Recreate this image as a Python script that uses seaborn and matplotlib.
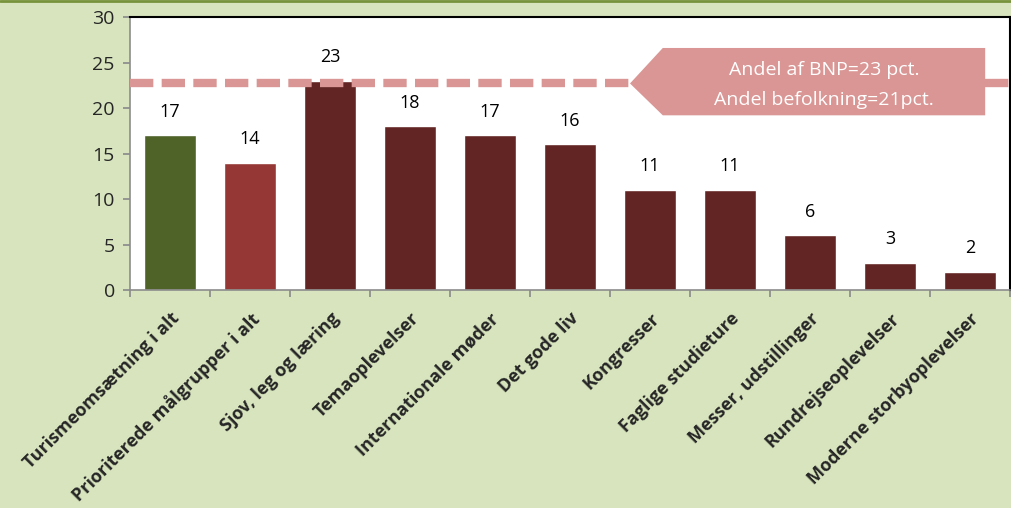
import matplotlib
matplotlib.use("Agg")
import matplotlib.pyplot as plt
import seaborn as sns
import pandas as pd
from matplotlib.patches import Polygon
from matplotlib.lines import Line2D

sns.set_theme(style="white")
plt.rcParams['font.family'] = ['Open Sans', 'DejaVu Sans']

# === Data ===
categories = ['Turismeomsætning i alt', 'Prioriterede målgrupper i alt', 'Sjov, leg og læring',
              'Temaoplevelser', 'Internationale møder', 'Det gode liv', 'Kongresser',
              'Faglige studieture', 'Messer, udstillinger', 'Rundrejseoplevelser',
              'Moderne storbyoplevelser']
values = [17, 14, 23, 18, 17, 16, 11, 11, 6, 3, 2]
bar_colors = ['#4F6228', '#953735'] + ['#632523'] * 9
reference_level = 22.7
callout_lines = ['Andel af BNP=23 pct.', 'Andel befolkning=21pct.']

df = pd.DataFrame({'kategori': categories, 'andel': values})

fig = plt.figure(figsize=(10.12, 5.08), dpi=100)
fig.patch.set_facecolor('#D7E4BD')
ax = fig.add_axes([0.1285, 0.429, 0.8695, 0.5375])
ax.set_facecolor('white')

sns.barplot(data=df, x='kategori', y='andel', hue='kategori', palette=bar_colors,
            width=0.65, saturation=1, legend=False, ax=ax, zorder=2)

for i, v in enumerate(values):
    ax.text(i, v + 2.6, str(v), ha='center', va='center', fontsize=13, color='black')

ax.set_ylim(0, 30)
ax.set_xlim(-0.5, len(categories) - 0.5)
ax.set_yticks(range(0, 31, 5))
ax.set_xticks([i - 0.5 for i in range(len(categories) + 1)], minor=False)
ax.set_xticklabels([])
ax.set_xticks(range(len(categories)), minor=True)
ax.set_xticklabels(categories, minor=True, rotation=45, ha='right', va='top',
                   rotation_mode='anchor', fontsize=13, fontweight='bold')
ax.tick_params(axis='x', which='minor', length=0, pad=14)
ax.tick_params(axis='x', which='major', length=5, color='#8C8C8C', direction='out')
ax.tick_params(axis='y', length=5, color='#8C8C8C', direction='out', labelsize=14, pad=6)
ax.tick_params(left=True, bottom=True)
ax.set_xlabel('')
ax.set_ylabel('')

for s in ['left', 'bottom']:
    ax.spines[s].set_color('#8C8C8C')
    ax.spines[s].set_linewidth(1.2)
for s in ['top', 'right']:
    ax.spines[s].set_color('black')
    ax.spines[s].set_linewidth(1.5)

# reference dashed line
ax.axhline(reference_level, color='#D99694', linewidth=6, linestyle=(0, (2.8, 1.0)),
           dash_capstyle='butt', zorder=3)

# callout arrow box
tip_x, body_left, body_right = 5.75, 6.16, 10.19
y_top, y_bot = 26.6, 19.2
callout = Polygon([(tip_x, reference_level), (body_left, y_top), (body_right, y_top),
                   (body_right, y_bot), (body_left, y_bot)],
                  closed=True, facecolor='#D99694', edgecolor='none', zorder=4)
ax.add_patch(callout)
mid_x = (body_left + body_right) / 2
ax.text(mid_x, 24.2, callout_lines[0], ha='center', va='center', color='white', fontsize=14, zorder=5)
ax.text(mid_x, 20.9, callout_lines[1], ha='center', va='center', color='white', fontsize=14, zorder=5)

fig.add_artist(Line2D([0, 1], [0.998, 0.998], color='#77933C', linewidth=2, transform=fig.transFigure))

fig.savefig('out.png', dpi=100, facecolor=fig.get_facecolor())
